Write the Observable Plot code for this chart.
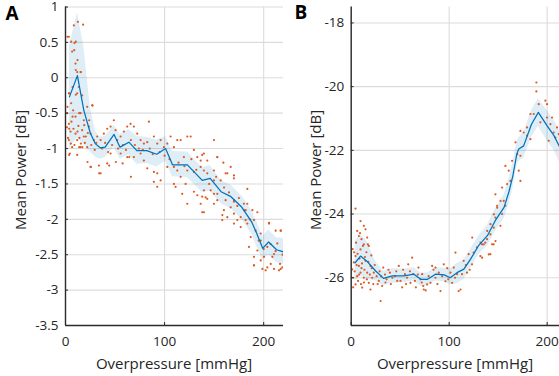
<!DOCTYPE html>
<html><head><meta charset="utf-8">
<script src="https://cdn.jsdelivr.net/npm/d3@7"></script>
<script src="https://cdn.jsdelivr.net/npm/@observablehq/plot@0.6"></script>
<style>
body{margin:0;background:#fff;}
#wrap{position:relative;width:559px;height:376px;overflow:hidden;font-family:"Open Sans",sans-serif;}
.panel{position:absolute;top:0;}
</style>
</head><body><div id="wrap"><div id="pa" class="panel" style="left:0"></div><div id="pb" class="panel" style="left:290px"></div></div>
<script>
// ---------- Panel A data ----------
const xTicks = [0, 100, 200];
const yTicksA = [-3.5, -3, -2.5, -2, -1.5, -1, -0.5, 0, 0.5, 1];
const meanAx = [4, 12, 18.5, 25, 30, 35, 40, 49, 55, 64, 72, 82, 92, 101, 108, 123, 138, 146, 157, 167, 178, 188, 193, 199, 205, 213, 220];
const meanAy = [-0.27, 0.03, -0.46, -0.78, -0.93, -0.99, -0.98, -0.80, -0.98, -0.91, -1.03, -1.03, -1.08, -1.0, -1.23, -1.23, -1.45, -1.42, -1.61, -1.68, -1.83, -2.04, -2.2, -2.41, -2.32, -2.43, -2.46];
const hiA = [0.45, 0.92, 0.44, -0.41, -0.75, -0.84, -0.83, -0.67, -0.80, -0.73, -0.83, -0.84, -0.88, -0.83, -1.04, -1.05, -1.27, -1.24, -1.45, -1.52, -1.67, -1.88, -2.03, -2.24, -2.15, -2.26, -2.27];
const loA = [-1.0, -0.85, -0.95, -1.05, -1.12, -1.15, -1.13, -0.98, -1.15, -1.09, -1.22, -1.21, -1.26, -1.18, -1.40, -1.41, -1.62, -1.60, -1.78, -1.85, -2.0, -2.21, -2.38, -2.58, -2.50, -2.61, -2.64];
const pointsA = [
[8.4,0.74],[12.5,0.79],[17.8,0.75],[3.4,0.58],[5.7,0.51],[9.1,0.49],[6.7,0.37],[10.1,0.2],[11.8,0.08],[15.2,0.08],
[13.5,-0.13],[11.8,-0.22],[16.8,-0.25],[3.4,-0.22],[5.7,-0.36],[1.7,-0.5],[3.4,-0.65],[7.7,-0.46],[10.1,-0.55],[15.2,-0.5],
[18.5,-0.6],[21.9,-0.41],[26.9,-0.39],[5.1,-0.76],[10.1,-0.79],[3.4,-0.88],[6.7,-0.98],[11.8,-0.88],[18.5,-0.83],[16.8,-0.74],
[23.6,-0.69],[25.3,-0.79],[28.6,-0.88],[21.9,-0.98],[4.4,-1.07],[11.8,-1.09],[15.2,-0.98],[32,-0.83],[35.4,-0.88],[38.7,-0.79],
[42.1,-0.72],[45.5,-0.69],[48.8,-0.6],[50.5,-0.74],[52.2,-0.88],[55.6,-0.83],[58.9,-0.76],[62.3,-0.69],[65.7,-0.65],[69,-0.69],
[72.4,-0.79],[75.8,-0.88],[79.1,-0.93],[82.5,-0.91],[84.2,-0.62],[89.2,-0.83],[92.6,-0.93],[96,-0.88],[99.3,-0.98],[102.7,-0.93],
[106.1,-0.83],[109.4,-0.98],[112.8,-0.88],[116.2,-0.88],[119.5,-1.12],[122.9,-0.83],[126.3,-0.83],[129.6,-1.02],[133,-1.12],[136.4,-1.17],
[139.7,-1.07],[143.1,-1.17],[149.8,-0.88],[153.2,-1.12],[159.3,-1.2],[163.3,-1.35],[170,-1.38],[166.7,-1.26],[35.4,-1.35],[42.1,-1.21],
[25.3,-1.26],[33.7,-1.24],[45.5,-1.07],[55.6,-1.07],[62.3,-1.12],[69,-1.12],[75.8,-1.07],[79.1,-1.17],[82.5,-1.28],[89.2,-1.33],
[92.6,-1.35],[96,-1.45],[102.7,-1.26],[109.4,-1.26],[112.8,-1.31],[116.2,-1.4],[122.9,-1.31],[129.6,-1.33],[136.4,-1.26],[143.1,-1.35],
[149.8,-1.45],[156.6,-1.45],
[89.2,-1.47],[92.6,-1.54],[109.4,-1.5],[117.8,-1.64],[122.9,-1.78],[133,-1.66],[136.4,-1.78],[139.7,-1.59],[143.1,-1.71],[149.8,-1.64],
[138,-1.9],[141.4,-1.69],[153.2,-1.73],[158.2,-2.01],[163.3,-1.97],[166.7,-1.83],[170,-1.92],[173.4,-1.81],[176.8,-1.97],[181.8,-1.87],
[183.5,-2.06],[186.9,-2.25],[190.2,-2.01],[191.9,-2.16],[197,-2.2],[200.3,-2.53],[193.6,-2.44],[203.7,-2.39],[207.1,-2.63],[210.4,-2.49],
[213.8,-2.34],[217.2,-2.16],[216.5,-2.63],[218.9,-2.68],[190.2,-2.65],[197,-2.58],[203.7,-2.68],[197,-2.3],[205.4,-2.06],[183.5,-1.78],
[170,-1.73],[159.9,-1.87],[149.8,-1.78],[129.6,-1.61],[121.2,-1.5],[111.1,-1.54],[170,-2.06],[176.8,-2.11],[185.2,-2.39],[190.2,-2.53],
[210.4,-2.7],[202,-2.72],[215.5,-2.72],
[138,-1.09],[153.2,-1.12],[139.7,-1.31],[149.8,-1.31],[161.6,-1.35],[170,-1.42],[183.5,-1.57],[146.5,-1.59],[153.2,-1.64],[138,-1.68],
[161.6,-1.73],[170,-1.75],[180.1,-1.87],[188.6,-1.87],[139.7,-1.9],[158.3,-1.94],[173.4,-2.01],[181.8,-2.01],[193.6,-1.9],[205.4,-2.05],
[212.1,-2.16],[217.2,-2.16],[190.2,-2.65],[198.7,-2.7],[208.8,-2.53],[217.2,-2.7],
[3.7,-1.09],[13.8,-0.98],[22.2,-1.19],[25.6,-1.26],[34,-1.35],[44.1,-1.24],[50.8,-1.19],[57.6,-1.21],[64.3,-1.12],[66,-1.4],
[10.4,0.51],[2,0.58],[8.8,0.39],[12.1,0.25],[10.4,0.11],[15.5,0.08],[7.1,-0.13],[10.4,-0.24],[3.7,-0.22],[2,-0.41],
[7.1,-0.55],[13.8,-0.5],[18.9,-0.67],[3.7,-0.72],[12.1,-0.76],[20.5,-0.83],[5.4,-0.93],[15.5,-0.93],[23.9,-0.6],[27.3,-0.39],
[1.5,-0.7],[2.5,-0.85],[6,-0.62],[8,-0.72],[9,-0.95],[13,-0.68],[14,-0.85],[17,-0.98],[19.5,-0.92],[22.5,-0.78],
[26,-0.95],[29.5,-1.02],[31,-0.92],[37,-1.0],[40,-0.92],[43,-1.05],[47,-0.95],[53,-1.0],[58,-0.95],[61,-1.02],
[66,-0.88],[70,-0.95],[74,-1.0],[78,-1.02],[85,-1.0],[88,-1.08],[95,-1.05],[100,-1.1],[105,-1.15],[114,-1.2],
[120,-1.25],[127,-1.15],[132,-1.3],[145,-1.5],[152,-1.4],[160,-1.55],[165,-1.62],[175,-1.7],[180,-1.78],[186,-2.0],
[195,-2.3],[200,-2.42],[207,-2.35],[212,-2.45],[219,-2.5]
];

// ---------- Panel B data ----------
const yTicksB = [-26, -24, -22, -20, -18];
const meanBx = [4, 9.5, 16, 25, 33, 42, 54, 64, 71, 78, 86, 95, 101, 108, 115, 122, 130, 139, 147, 156, 161, 165, 169, 171, 176, 184, 191, 200, 207, 213];
const meanBy = [-25.53, -25.32, -25.48, -25.79, -26.02, -25.94, -25.94, -25.89, -26.05, -26.05, -25.89, -25.91, -26.0, -25.84, -25.73, -25.41, -24.99, -24.68, -24.21, -23.79, -23.3, -22.8, -22.12, -21.96, -21.86, -21.18, -20.81, -21.23, -21.54, -21.91];
const hiB = [-24.85, -24.65, -24.85, -25.5, -25.8, -25.72, -25.73, -25.68, -25.85, -25.85, -25.68, -25.7, -25.72, -25.55, -25.45, -25.1, -24.7, -24.35, -23.85, -23.4, -22.9, -22.4, -21.75, -21.6, -21.45, -20.75, -20.38, -20.75, -21.05, -21.4];
const loB = [-26.1, -25.95, -26.05, -26.1, -26.25, -26.17, -26.15, -26.1, -26.27, -26.25, -26.1, -26.13, -26.22, -26.2, -26.05, -25.7, -25.28, -25.0, -24.55, -24.15, -23.7, -23.2, -22.5, -22.35, -22.25, -21.6, -21.25, -21.7, -22.0, -22.4];
const pointsB = [
[4.4,-23.83],[9.5,-24.22],[12.9,-24.37],[6.1,-24.53],[7.8,-24.69],[14.6,-24.48],[10.5,-24.79],[16.3,-24.74],[12.9,-24.95],[9.5,-25.11],
[4.4,-25.32],[18,-25.0],[2.7,-25.52],[7.8,-25.63],[14.6,-25.47],[19.7,-25.63],[23.1,-25.84],[1,-25.74],[6.1,-25.95],[12.9,-26.0],
[4.4,-26.21],[11.2,-26.31],[18,-26.16],[21.4,-26.0],[28.2,-26.1],[32.7,-25.68],[31.6,-26.26],[36.1,-26.05],[39.5,-25.84],[44.6,-25.95],
[48.6,-25.63],[50.3,-26.1],[54.8,-25.89],[58.2,-25.58],[60.5,-26.16],[63.3,-25.89],[62.2,-25.37],[68.7,-25.68],[70.7,-26.05],[73.5,-26.26],
[30,-26.73],[19.7,-26.37],[9.5,-25.84],[2,-26.0],[16.3,-25.84],[3,-25.2],[5.5,-25.6],[8.5,-25.4],[11,-25.55],[13.5,-25.75],
[15.5,-25.2],[17.5,-25.5],[2,-26.3],[7,-26.1],[10,-26.2],[20.5,-25.3],[26,-25.95],[29,-25.8],[34.5,-25.9],[40.5,-26.2],
[46,-25.8],[52,-26.3],[57,-26.0],[66,-26.3],[76,-26.4],
[1.5,-25.1],[3.5,-25.8],[5,-24.9],[6.5,-25.25],[8,-25.9],[9,-24.6],[10.5,-25.7],[12,-25.0],[13,-26.15],[14,-25.35],
[16,-26.05],[17,-24.95],[19,-25.9],[21,-25.7],[22.5,-26.2],[24,-25.6],[27,-26.2],[30.5,-25.95],[35,-26.15],[38,-25.75],
[42,-26.0],[47,-26.1],[53,-25.75],[56,-26.2],[60,-25.8],[65,-26.1],[68,-25.9],[72,-26.15],
[72.4,-25.89],[77.5,-26.21],[82.6,-25.63],[86,-25.68],[89.4,-25.84],[94.5,-25.58],[92.8,-25.95],[96.2,-26.11],[101.3,-25.84],[103,-26.16],
[104.7,-25.68],[108.1,-25.89],[106.4,-25.21],[109.7,-26.42],[113.1,-25.89],[114.8,-25.47],[118.2,-25.84],[119.9,-25.26],[123.3,-25.58],[125,-25.21],
[128.4,-25.05],[131.8,-25.32],[133.5,-24.95],[136.9,-24.9],[142,-25.26],[145.4,-24.95],[91.1,-26.42],[80.9,-26.16],[74.1,-26.37],[86,-26.0],
[111.6,-26.37],[98,-25.7],[84,-25.75],[79,-25.95],[88,-26.2],[99,-26.05],[106,-26.0],[117,-25.6],[121,-25.75],
[133.6,-25.37],[140.4,-25.27],[135.3,-24.95],[138.7,-24.79],[142.1,-24.64],[143.8,-24.95],[145.5,-24.43],[147.2,-24.11],[152.3,-24.37],[148.9,-23.74],
[154,-24.0],[147.2,-23.38],[155.7,-23.59],[157.4,-23.74],[154,-23.17],[159.1,-23.06],[162.5,-22.96],[160.8,-22.64],[157.4,-22.49],[164.2,-22.33],
[169.4,-22.12],[167.7,-21.75],[172.7,-22.17],[171,-22.64],[172.7,-21.39],[176.1,-21.44],[179.5,-21.54],[182.9,-21.65],[179.5,-21.28],[182.9,-20.86],
[186.3,-20.86],[189,-19.87],[189,-20.15],[191.4,-20.55],[193.1,-21.12],[198.2,-20.44],[199.9,-20.55],[199.9,-20.97],[201.6,-21.7],[203.3,-21.18],
[206.7,-21.44],[208.4,-21.6],[210.1,-21.28],[211.8,-21.49],[205,-20.97],[172.7,-22.96],
[123.5,-24.74],[132,-24.9],[138.8,-24.53],[142.2,-24.32],[145.6,-24.01],[149,-23.8],[152.4,-23.59],[147.3,-24.85]
];

// ---------- styles ----------
const colPts = "#DD5A22", colLine = "#0072BD", colGrid = "#dcdcdc", colAxis = "#2b2b2b";
const fmt = d => String(d);
const FONT = '"Open Sans", sans-serif';

function panel({el, width, ml, mr, xDomain, yDomain, yTicks, mx, my, hi, lo, pts}) {
  const band = mx.map((x, i) => ({x, m: my[i], hi: hi[i], lo: lo[i]}));
  const p = Plot.plot({
    width, height: 376,
    marginLeft: ml, marginRight: mr, marginTop: 6.5, marginBottom: 51,
    style: {fontFamily: FONT, background: "transparent", overflow: "visible"},
    x: {domain: xDomain},
    y: {domain: yDomain},
    marks: [
      Plot.gridX(xTicks, {stroke: colGrid, strokeOpacity: 1, strokeWidth: 1.1}),
      Plot.gridY(yTicks, {stroke: colGrid, strokeOpacity: 1, strokeWidth: 1.1}),
      Plot.areaY(band, {x: "x", y1: "lo", y2: "hi", fill: colLine, fillOpacity: 0.13, curve: "linear", clip: true}),
      Plot.dot(pts, {x: d => d[0], y: d => d[1], r: 1.1, fill: colPts, stroke: "none", clip: true}),
      Plot.line(band, {x: "x", y: "m", stroke: colLine, strokeWidth: 1.25, clip: true}),
      Plot.axisX({ticks: xTicks, tickSize: 0, tickPadding: 11, tickFormat: fmt, fontSize: 13.5, label: null, fill: "#262626"}),
      Plot.axisY({ticks: yTicks, tickSize: 0, tickPadding: 7, tickFormat: fmt, fontSize: 13.5, label: null, fill: "#262626"}),
      Plot.axisX({ticks: xTicks, tickSize: -3, tickFormat: () => "", label: null, stroke: colAxis}),
      Plot.axisY({ticks: yTicks, tickSize: -3, tickFormat: () => "", label: null, stroke: colAxis}),
      Plot.ruleX([xDomain[0]], {stroke: colAxis, strokeWidth: 1.4}),
      Plot.ruleY([yDomain[0]], {stroke: colAxis, strokeWidth: 1.4})
    ]
  });
  document.getElementById(el).appendChild(p);
  return p;
}

const pa = panel({el: "pa", width: 290, ml: 65, mr: 7, xDomain: [0, 220], yDomain: [-3.5, 1], yTicks: yTicksA,
  mx: meanAx, my: meanAy, hi: hiA, lo: loA, pts: pointsA});
const pb = panel({el: "pb", width: 269, ml: 60.7, mr: 0, xDomain: [0, 212.6], yDomain: [-27.5, -17.5], yTicks: yTicksB,
  mx: meanBx, my: meanBy, hi: hiB, lo: loB, pts: pointsB});

// titles
const yLabel = "Mean Power [dB]", xLabel = "Overpressure [mmHg]";
function titles(svgEl, letter, lx, ly, yx, cx) {
  const s = d3.select(svgEl);
  s.append("text").attr("x", lx).attr("y", ly).attr("font-size", 19).attr("font-weight", "bold")
    .attr("font-family", FONT).attr("fill", "#000").text(letter);
  s.append("text").attr("transform", `translate(${yx},170) rotate(-90)`).attr("text-anchor", "middle")
    .attr("font-size", 15).attr("font-family", FONT).attr("fill", "#262626").text(yLabel);
  s.append("text").attr("x", cx).attr("y", 369).attr("text-anchor", "middle")
    .attr("font-size", 15).attr("font-family", FONT).attr("fill", "#262626").text(xLabel);
}
titles(pa, "A", 12, 20, 26, 174);
titles(pb, "B", 11, 19, 31, 165);
</script>
</body></html>
